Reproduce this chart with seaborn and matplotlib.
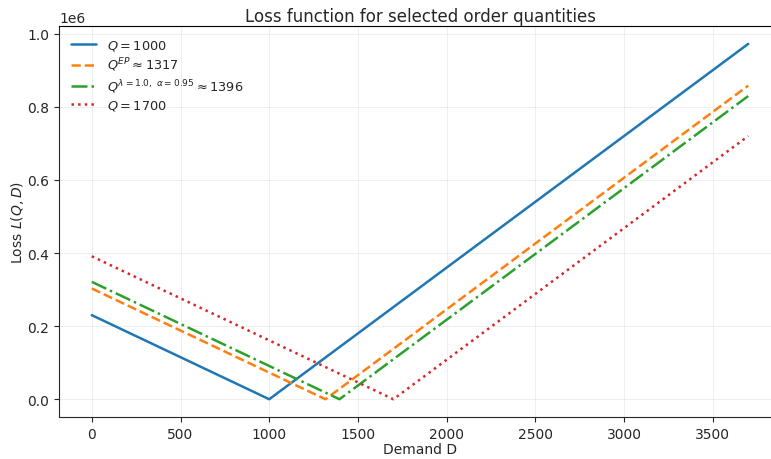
import numpy as np
import pandas as pd
import matplotlib
matplotlib.use("Agg")
import matplotlib.pyplot as plt
import seaborn as sns

# vertices of each loss curve (demand, loss)
labels = [r"$Q = 1000$", r"$Q^{EP} \approx 1317$",
          r"$Q^{\lambda=1.0,\ \alpha=0.95} \approx 1396$", r"$Q = 1700$"]
demand = [[0, 1000, 3700], [0, 1317, 3700], [0, 1396, 3700], [0, 1700, 3700]]
loss = [[230000, 0, 972000],
        [302900, 0, 857900],
        [321100, 0, 829400],
        [391000, 0, 720000]]
colors = ["#1f77b4", "#ff7f0e", "#2ca02c", "#d62728"]
styles = ["-", "--", "-.", ":"]

sns.set_style("ticks")
fig, ax = plt.subplots(figsize=(7.71, 4.6), dpi=100)

for lab, d, l, c, ls in zip(labels, demand, loss, colors, styles):
    df = pd.DataFrame({"D": d, "L": l})
    sns.lineplot(data=df, x="D", y="L", ax=ax, color=c, linestyle=ls,
                 linewidth=1.8, label=lab)

ax.grid(True, alpha=0.3)
ax.set_xlabel("Demand D", labelpad=1)
ax.set_ylabel(r"Loss $L(Q, D)$", labelpad=1)
ax.set_title("Loss function for selected order quantities", pad=4)
ax.spines["top"].set_color("black")
ax.legend(frameon=False, loc="upper left", labelspacing=0.3, fontsize=9.3)
fig.subplots_adjust(left=0.0765, right=1.013, top=0.941, bottom=0.0913)
fig.savefig("out.png")
